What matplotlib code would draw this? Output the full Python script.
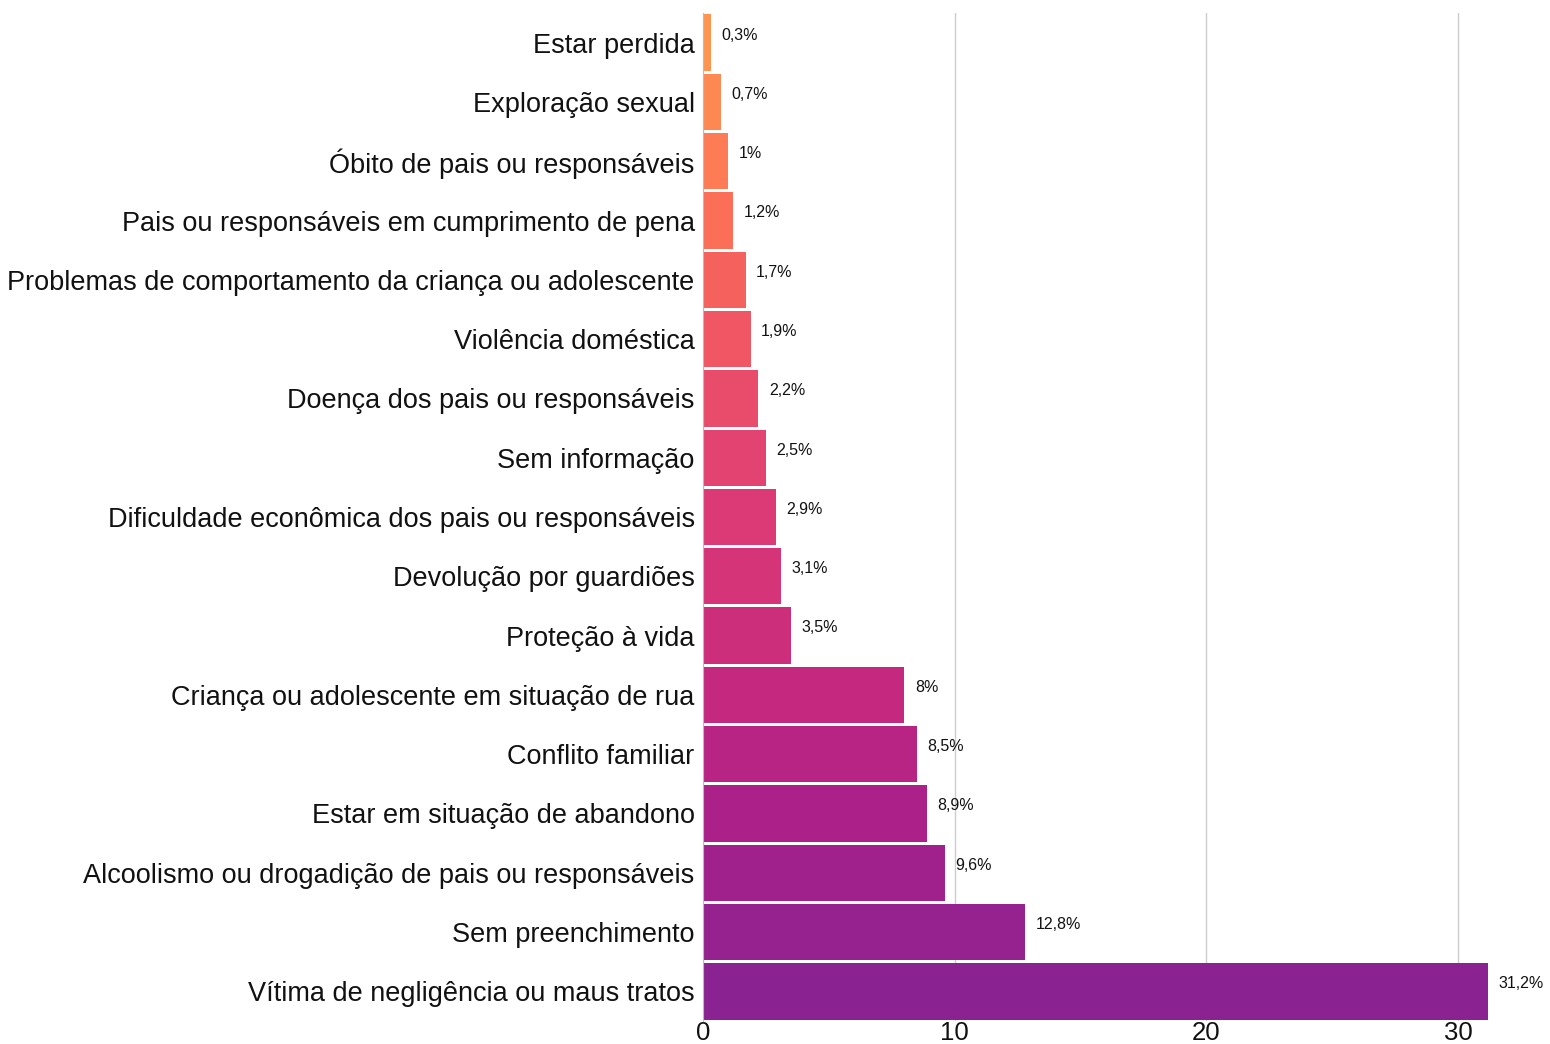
import matplotlib
matplotlib.use('Agg')
import numpy as np
import matplotlib.pyplot as plt
from matplotlib.colors import LinearSegmentedColormap

plt.rcParams['font.family'] = ['Liberation Sans', 'DejaVu Sans']

categories = [
    "Estar perdida",
    "Exploração sexual",
    "Óbito de pais ou responsáveis",
    "Pais ou responsáveis em cumprimento de pena",
    "Problemas de comportamento da criança ou adolescente",
    "Violência doméstica",
    "Doença dos pais ou responsáveis",
    "Sem informação",
    "Dificuldade econômica dos pais ou responsáveis",
    "Devolução por guardiões",
    "Proteção à vida",
    "Criança ou adolescente em situação de rua",
    "Conflito familiar",
    "Estar em situação de abandono",
    "Alcoolismo ou drogadição de pais ou responsáveis",
    "Sem preenchimento",
    "Vítima de negligência ou maus tratos",
]
values = [0.3, 0.7, 1.0, 1.2, 1.7, 1.9, 2.2, 2.5, 2.9, 3.1, 3.5, 8.0, 8.5, 8.9, 9.6, 12.8, 31.2]
labels = ["0,3%", "0,7%", "1%", "1,2%", "1,7%", "1,9%", "2,2%", "2,5%", "2,9%",
          "3,1%", "3,5%", "8%", "8,5%", "8,9%", "9,6%", "12,8%", "31,2%"]

# orange -> pink -> purple gradient, top to bottom
cmap = LinearSegmentedColormap.from_list(
    "grad", ["#ff9450", "#fd7356", "#ee5266", "#dc3a76", "#c92a7d", "#a81f8a", "#8a2391"])
colors = [cmap(i / (len(values) - 1)) for i in range(len(values))]

fig = plt.figure(figsize=(15.5, 10.44), dpi=100)
ax = fig.add_axes([703 / 1550, 1 - 1021 / 1044, (1550 - 703) / 1550, (1021 - 13) / 1044])

y = np.arange(len(values))
ax.barh(y, values, height=0.95, color=colors, edgecolor='none', zorder=2)
ax.set_ylim(len(values) - 0.5, -0.5)
ax.set_xlim(0, 33.65)

ax.set_yticks(y)
ax.set_yticklabels(categories, fontsize=19.5, color='#111111')
ax.set_xticks([0, 10, 20, 30])
ax.set_xticklabels(["0", "10", "20", "30"], fontsize=18.5, color='#111111')
ax.tick_params(length=0, pad=6)
ax.tick_params(axis='x', pad=0)

ax.grid(axis='x', color='#cccccc', lw=1, zorder=0)
ax.grid(axis='y', visible=False)
for s in ['top', 'right', 'bottom']:
    ax.spines[s].set_visible(False)
ax.spines['left'].set_color('#bbbbbb')
ax.spines['left'].set_zorder(3)

for yi, v, lab in zip(y, values, labels):
    ax.annotate(lab, (v, yi), xytext=(7.5, 5.5), textcoords='offset points',
                va='center', ha='left', fontsize=11.5, color='#111111')

fig.savefig("out.png", dpi=100)
